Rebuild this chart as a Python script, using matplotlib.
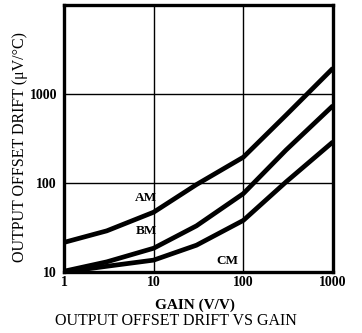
import matplotlib
matplotlib.use("Agg")
import matplotlib.pyplot as plt

gain = [1, 3, 10, 30, 100, 300, 1000]
am = [21.5, 29, 47, 96, 195, 580, 1950]
bm = [10.2, 13, 18.5, 33, 76, 235, 740]
cm = [10, 11.6, 13.6, 20, 38, 103, 290]

x_ticks = [1, 10, 100, 1000]
x_tick_labels = ["1", "10", "100", "1000"]
y_ticks = [10, 100, 1000]
y_tick_labels = ["10", "100", "1000"]

plt.rcParams['font.family'] = ['Liberation Serif', 'DejaVu Serif']

fig = plt.figure(figsize=(3.62, 3.33), dpi=100)
ax = fig.add_axes([64/362, 61/333, 269/362, 267/333])

for series in (am, bm, cm):
    ax.plot(gain, series, color='black', lw=3.4, solid_capstyle='butt', solid_joinstyle='round')

ax.set_xscale('log')
ax.set_yscale('log')
ax.set_xlim(1, 1000)
ax.set_ylim(10, 10000)
ax.minorticks_off()
ax.set_xticks(x_ticks)
ax.set_xticklabels(x_tick_labels, fontsize=10, fontweight='bold')
ax.set_yticks(y_ticks)
ax.set_yticklabels(y_tick_labels, fontsize=10, fontweight='bold')
ax.tick_params(axis='x', length=0, pad=3)
ax.tick_params(axis='y', length=0, pad=5)
ax.grid(True, which='major', color='black', lw=1.0)
for s in ax.spines.values():
    s.set_linewidth(2.4)

ax.text(8.3, 68, "AM", fontsize=9.5, fontweight='bold', ha='center', va='center')
ax.text(8.3, 29, "BM", fontsize=9.5, fontweight='bold', ha='center', va='center')
ax.text(66, 13.2, "CM", fontsize=9.5, fontweight='bold', ha='center', va='center')

fig.text(20/362, 1 - 147/333, "OUTPUT OFFSET DRIFT (μV/°C)", fontsize=11.5,
         rotation=90, ha='center', va='center')
fig.text(195/362, 1 - 305/333, "GAIN (V/V)", fontsize=11, fontweight='bold', ha='center', va='center')
fig.text(176/362, 1 - 321/333, "OUTPUT OFFSET DRIFT VS GAIN", fontsize=11.5, ha='center', va='center')

fig.savefig("out.png", dpi=100)
